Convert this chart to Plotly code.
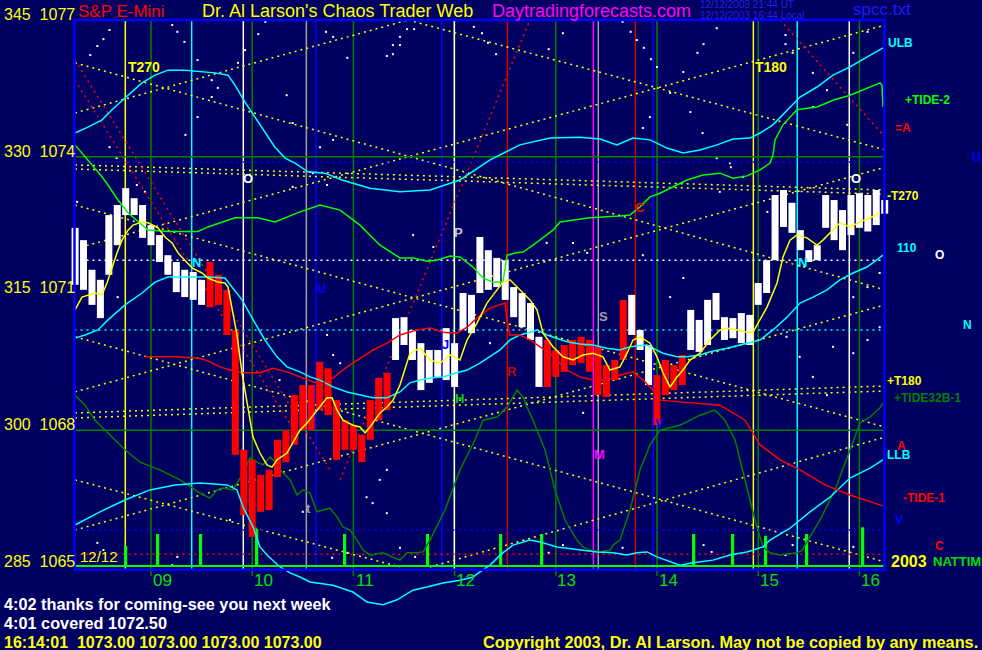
import plotly.graph_objects as go

# ---------------- data ----------------
BG = "#000060"

# 5-minute price bars starting 8:15
bar_start = 8.25
bar_step = 5 / 60
bar_high = [1072.44, 1072.17, 1071.52, 1071.30, 1072.72, 1072.94, 1073.31, 1073.09, 1072.94,
            1072.50, 1072.28, 1071.84, 1071.69, 1071.52, 1071.47, 1071.30, 1071.69, 1071.41, 1071.08, 1070.20, 1067.57,
            1067.35, 1067.02, 1067.13, 1067.79, 1068.00, 1068.77, 1068.99, 1068.99, 1069.50, 1069.36, 1068.66, 1068.22,
            1068.11, 1067.90, 1068.66, 1069.15, 1069.26, 1070.46, 1070.48, 1070.20, 1069.91, 1069.76, 1069.76, 1070.24,
            1069.91, 1071.01, 1070.97, 1072.24, 1071.95, 1071.78, 1071.73, 1071.14, 1071.01, 1070.79, 1070.05, 1069.98,
            1069.76, 1069.87, 1069.98, 1070.05, 1069.98, 1069.83, 1069.43, 1069.54, 1070.86, 1070.97, 1070.20, 1069.87,
            1069.21, 1069.54, 1069.43, 1069.65, 1070.64, 1070.42, 1070.86, 1071.01, 1070.48, 1070.46, 1070.57, 1070.53,
            1071.23, 1071.73, 1073.16, 1073.27, 1072.99, 1072.39, 1071.95, 1072.06, 1073.16, 1073.05, 1072.83, 1073.16,
            1073.20, 1073.16, 1073.27, 1073.05]
bar_low = [1071.19, 1071.08, 1070.75, 1070.46, 1071.41, 1072.06, 1072.72, 1072.72, 1072.22,
           1072.06, 1071.69, 1071.41, 1071.03, 1070.92, 1070.86, 1070.75, 1070.70, 1070.75, 1070.09, 1067.46, 1066.14,
           1065.66, 1066.21, 1066.25, 1066.97, 1067.30, 1067.68, 1068.00, 1068.00, 1068.44, 1068.33, 1067.35, 1067.57,
           1067.57, 1067.30, 1067.79, 1068.22, 1068.44, 1069.54, 1069.87, 1069.54, 1068.88, 1069.04, 1069.17, 1069.10,
           1068.95, 1070.20, 1070.13, 1071.01, 1071.08, 1071.14, 1070.86, 1070.48, 1070.26, 1069.98, 1068.95, 1068.95,
           1069.17, 1069.28, 1069.43, 1069.47, 1069.28, 1068.77, 1068.73, 1069.10, 1069.54, 1070.09, 1069.76, 1068.99,
           1068.11, 1068.77, 1068.88, 1068.99, 1069.76, 1069.72, 1069.87, 1070.42, 1069.98, 1070.02, 1069.91, 1069.87,
           1070.75, 1071.01, 1071.73, 1072.46, 1072.33, 1071.95, 1071.69, 1071.73, 1072.44, 1072.17, 1071.95, 1072.28,
           1072.44, 1072.36, 1072.50, 1072.75]
bar_color = "W" * 16 + "R" * 22 + "W" * 18 + "R" * 10 + "W" * 3 + "R" * 4 + "W" * 24

ma_t = [8.249, 8.318, 8.447, 8.516, 8.565, 8.615, 8.664, 8.713, 8.773, 8.822, 8.911, 8.970, 9.069, 9.138, 9.208,
        9.267, 9.336, 9.405, 9.504, 9.563, 9.662, 9.731, 9.761, 9.810, 9.850, 9.899, 9.978, 10.008, 10.077, 10.146,
        10.196, 10.245, 10.344, 10.403, 10.472, 10.542, 10.621, 10.670, 10.739, 10.789, 10.838, 10.897, 10.996,
        11.065, 11.115, 11.164, 11.263, 11.332, 11.391, 11.460, 11.559, 11.658, 11.757, 11.856, 11.955, 12.053,
        12.123, 12.221, 12.320, 12.419, 12.478, 12.547, 12.646, 12.745, 12.814, 12.874, 12.972, 13.071, 13.170,
        13.269, 13.368, 13.466, 13.536, 13.634, 13.704, 13.763, 13.832, 13.931, 14.000, 14.059, 14.129, 14.198,
        14.257, 14.326, 14.425, 14.524, 14.623, 14.692, 14.791, 14.889, 14.949, 15.018, 15.087, 15.186, 15.245,
        15.314, 15.383, 15.482, 15.581, 15.640, 15.709, 15.808, 15.907, 16.006, 16.105, 16.204]
ma_v = [1070.64, 1070.92, 1071.01, 1070.97, 1071.23, 1071.58, 1071.89, 1072.17, 1072.39, 1072.50, 1072.57, 1072.55,
        1072.44, 1072.24, 1072.11, 1071.89, 1071.73, 1071.56, 1071.45, 1071.34, 1071.25, 1071.23, 1071.14, 1070.53,
        1070.09, 1069.26, 1068.29, 1067.85, 1067.50, 1067.24, 1067.19, 1067.35, 1067.50, 1067.72, 1068.00, 1068.16,
        1068.38, 1068.51, 1068.71, 1068.71, 1068.44, 1068.22, 1068.11, 1068.07, 1067.94, 1068.07, 1068.38, 1068.51,
        1068.66, 1068.99, 1069.69, 1069.80, 1069.54, 1069.47, 1069.65, 1069.54, 1069.98, 1070.35, 1070.79, 1071.08,
        1071.25, 1071.30, 1071.08, 1070.86, 1070.64, 1070.13, 1069.83, 1069.61, 1069.54, 1069.65, 1069.69, 1069.61,
        1069.32, 1069.39, 1069.69, 1069.98, 1070.05, 1069.91, 1069.61, 1069.26, 1068.95, 1069.17, 1069.32, 1069.54,
        1069.69, 1069.98, 1070.20, 1070.24, 1070.20, 1070.15, 1070.15, 1070.42, 1070.70, 1071.23, 1071.80, 1072.17,
        1072.28, 1072.22, 1072.06, 1072.17, 1072.33, 1072.55, 1072.46, 1072.57, 1072.66, 1072.77]

ulb_t = [8.249, 8.377, 8.516, 8.615, 8.743, 8.911, 9.040, 9.168, 9.336, 9.504, 9.632, 9.761, 9.830, 9.929, 10.028,
         10.126, 10.225, 10.324, 10.423, 10.551, 10.719, 10.887, 11.164, 11.460, 11.757, 12.053, 12.350, 12.646,
         12.943, 13.239, 13.437, 13.605, 13.763, 13.931, 14.099, 14.257, 14.425, 14.593, 14.751, 14.919, 15.018,
         15.146, 15.285, 15.413, 15.581, 15.739, 15.907, 16.075, 16.233]
ulb_v = [1074.52, 1074.65, 1074.81, 1075.03, 1075.29, 1075.62, 1075.79, 1075.90, 1075.90, 1075.86, 1075.84, 1075.79,
         1075.57, 1075.20, 1074.87, 1074.52, 1074.21, 1073.97, 1073.86, 1073.67, 1073.64, 1073.49, 1073.31, 1073.23,
         1073.27, 1073.49, 1073.93, 1074.26, 1074.41, 1074.43, 1074.39, 1074.26, 1074.41, 1074.37, 1074.19, 1074.08,
         1074.15, 1074.26, 1074.39, 1074.41, 1074.52, 1074.70, 1075.03, 1075.31, 1075.53, 1075.79, 1075.97, 1076.19,
         1076.39]

mid_t = [8.249, 8.348, 8.476, 8.575, 8.743, 8.911, 9.040, 9.168, 9.336, 9.563, 9.731, 9.800, 9.899, 10.028, 10.126,
         10.245, 10.344, 10.472, 10.571, 10.670, 10.798, 10.937, 11.065, 11.194, 11.332, 11.460, 11.559, 11.658,
         11.787, 11.885, 12.024, 12.123, 12.251, 12.350, 12.449, 12.547, 12.646, 12.745, 12.814, 12.913, 13.012,
         13.111, 13.239, 13.368, 13.506, 13.634, 13.733, 13.901, 13.960, 14.059, 14.198, 14.296, 14.425, 14.524,
         14.692, 14.889, 15.018, 15.146, 15.285, 15.413, 15.542, 15.680, 15.808, 15.937, 16.075, 16.233]
mid_v = [1070.02, 1070.09, 1070.20, 1070.42, 1070.75, 1071.01, 1071.25, 1071.36, 1071.36, 1071.36, 1071.34, 1071.14,
         1070.86, 1070.35, 1069.98, 1069.61, 1069.39, 1069.28, 1069.17, 1069.10, 1068.95, 1068.84, 1068.77, 1068.71,
         1068.71, 1068.84, 1069.04, 1069.10, 1069.15, 1069.17, 1069.26, 1069.32, 1069.47, 1069.61, 1069.76, 1069.98,
         1070.09, 1070.15, 1070.20, 1070.09, 1070.02, 1069.94, 1069.89, 1069.87, 1069.80, 1069.76, 1069.83, 1069.87,
         1069.80, 1069.69, 1069.61, 1069.61, 1069.65, 1069.72, 1069.80, 1069.91, 1069.98, 1070.20, 1070.48, 1070.79,
         1070.92, 1071.08, 1071.30, 1071.45, 1071.58, 1071.84]

llb_t = [8.249, 8.496, 8.743, 8.990, 9.237, 9.484, 9.751, 9.850, 9.909, 10.008, 10.077, 10.146, 10.275, 10.374,
         10.472, 10.571, 10.798, 10.996, 11.134, 11.292, 11.431, 11.589, 11.727, 11.885, 12.053, 12.182, 12.251,
         12.350, 12.449, 12.577, 12.745, 12.844, 13.012, 13.239, 13.407, 13.566, 13.704, 13.802, 13.901, 14.000,
         14.129, 14.227, 14.356, 14.553, 14.721, 14.889, 15.047, 15.117, 15.314, 15.512, 15.709, 15.907, 16.006,
         16.105, 16.233]
llb_v = [1065.92, 1066.21, 1066.47, 1066.69, 1066.80, 1066.84, 1066.80, 1066.69, 1066.32, 1065.88, 1065.44, 1065.26,
         1065.00, 1064.87, 1064.78, 1064.67, 1064.60, 1064.45, 1064.23, 1064.17, 1064.28, 1064.49, 1064.56, 1064.65,
         1064.71, 1064.78, 1064.89, 1065.04, 1065.26, 1065.48, 1065.59, 1065.55, 1065.44, 1065.37, 1065.33, 1065.31,
         1065.26, 1065.31, 1065.33, 1065.22, 1065.11, 1065.04, 1065.09, 1065.15, 1065.26, 1065.33, 1065.44, 1065.59,
         1065.85, 1066.21, 1066.53, 1066.95, 1067.06, 1067.17, 1067.35]

tide2_t = [8.249, 8.377, 8.516, 8.575, 8.674, 8.773, 8.872, 8.970, 9.168, 9.464, 9.563, 9.702, 9.830, 10.057,
           10.225, 10.472, 10.670, 10.868, 11.065, 11.263, 11.460, 11.589, 11.727, 11.826, 11.955, 12.053, 12.182,
           12.281, 12.379, 12.478, 12.518, 12.597, 12.676, 12.775, 12.874, 12.972, 13.042, 13.338, 13.634, 13.733,
           13.832, 13.931, 14.030, 14.129, 14.296, 14.455, 14.623, 14.751, 14.889, 15.018, 15.117, 15.146, 15.166,
           15.245, 15.383, 15.581, 15.739, 15.907, 16.075, 16.204, 16.223, 16.233]
tide2_v = [1074.26, 1073.93, 1073.56, 1073.38, 1073.05, 1072.77, 1072.57, 1072.39, 1072.36, 1072.36, 1072.46, 1072.57,
           1072.66, 1072.66, 1072.57, 1072.79, 1072.94, 1072.83, 1072.50, 1072.06, 1071.78, 1071.78, 1071.71, 1071.73,
           1071.82, 1071.80, 1071.58, 1071.34, 1071.25, 1071.25, 1071.84, 1071.89, 1071.91, 1072.06, 1072.22, 1072.39,
           1072.57, 1072.66, 1072.70, 1072.72, 1072.90, 1073.12, 1073.20, 1073.31, 1073.49, 1073.60, 1073.64, 1073.53,
           1073.58, 1073.71, 1073.86, 1074.04, 1074.37, 1074.70, 1075.03, 1075.09, 1075.24, 1075.35, 1075.51, 1075.62,
           1075.57, 1075.09]

tide1_t = [8.941, 9.237, 9.484, 9.583, 9.682, 9.781, 9.909, 10.077, 10.206, 10.344, 10.472, 10.601, 10.700, 10.798,
           10.937, 11.065, 11.194, 11.332, 11.460, 11.628, 11.757, 11.885, 12.024, 12.123, 12.221, 12.350, 12.449,
           12.498, 12.518, 12.547, 12.646, 12.745, 12.844, 12.943, 13.111, 13.239, 13.368, 13.506, 13.634, 13.763,
           13.862, 13.960, 14.030, 14.326, 14.623, 14.870, 15.018, 15.215, 15.413, 15.660, 15.907, 16.233]
tide1_v = [1069.61, 1069.61, 1069.58, 1069.50, 1069.39, 1069.32, 1069.26, 1069.26, 1069.36, 1069.28, 1069.17, 1069.06,
           1069.04, 1069.15, 1069.39, 1069.58, 1069.76, 1069.91, 1070.09, 1070.20, 1070.24, 1070.15, 1070.13, 1070.26,
           1070.46, 1070.68, 1070.75, 1070.79, 1070.42, 1070.09, 1070.09, 1069.98, 1069.83, 1069.69, 1069.32, 1069.17,
           1069.10, 1069.10, 1069.21, 1069.28, 1069.10, 1068.88, 1068.66, 1068.60, 1068.55, 1068.22, 1067.68, 1067.35,
           1067.13, 1066.80, 1066.58, 1066.34]

osc_t = [8.249, 8.348, 8.447, 8.595, 8.743, 8.891, 9.089, 9.287, 9.484, 9.583, 9.652, 9.711, 9.810, 9.909, 9.978,
         10.047, 10.107, 10.176, 10.206, 10.275, 10.374, 10.443, 10.502, 10.571, 10.640, 10.700, 10.769, 10.838,
         10.897, 10.966, 11.036, 11.095, 11.164, 11.292, 11.391, 11.460, 11.530, 11.628, 11.688, 11.757, 11.905,
         12.053, 12.202, 12.281, 12.419, 12.518, 12.617, 12.676, 12.715, 12.775, 12.893, 12.992, 13.091, 13.209,
         13.269, 13.338, 13.437, 13.536, 13.566, 13.634, 13.733, 13.832, 13.931, 14.030, 14.227, 14.425, 14.573,
         14.672, 14.771, 14.870, 14.968, 15.047, 15.117, 15.215, 15.383, 15.433, 15.611, 15.759, 15.907, 15.957,
         16.006, 16.105, 16.204, 16.233]
osc_v = [1068.77, 1068.55, 1068.22, 1067.90, 1067.57, 1067.30, 1067.13, 1066.91, 1066.62, 1066.51, 1066.69, 1066.73,
         1066.69, 1067.06, 1067.39, 1067.30, 1067.24, 1067.41, 1067.35, 1067.13, 1066.91, 1066.58, 1066.69, 1066.62,
         1066.21, 1066.25, 1066.29, 1066.10, 1065.88, 1065.81, 1065.59, 1065.37, 1065.26, 1065.31, 1065.22, 1065.15,
         1065.31, 1065.31, 1065.33, 1065.59, 1066.25, 1067.13, 1067.79, 1068.22, 1068.29, 1068.51, 1068.88, 1068.73,
         1068.51, 1068.22, 1067.57, 1066.69, 1066.03, 1065.59, 1065.44, 1065.37, 1065.33, 1065.37, 1065.48, 1065.59,
         1066.25, 1067.13, 1067.68, 1068.00, 1068.11, 1068.33, 1068.44, 1068.22, 1067.79, 1066.91, 1066.03, 1065.44,
         1065.31, 1065.26, 1065.31, 1065.37, 1066.03, 1066.69, 1067.57, 1067.85, 1068.16, 1068.29, 1068.49, 1068.60]

nat_base = 1065.02
nat_t = [8.743, 9.059, 9.484, 10.038, 10.907, 11.727, 12.449, 12.854, 14.356, 14.741, 15.067, 15.472, 16.026]
nat_top = [1065.44, 1065.70, 1065.70, 1065.81, 1065.70, 1065.70, 1065.70, 1065.70, 1065.70, 1065.70, 1065.66,
           1065.70, 1065.85]

# background star dots
star_t = [8.59, 8.53, 8.47, 8.40, 9.21, 9.26, 9.33, 9.93, 10.13, 10.06, 10.73, 10.80, 10.94, 11.53, 11.60, 11.46,
          11.39, 11.46, 11.39, 11.33, 12.19, 12.27, 12.33, 12.41, 13.07, 12.93, 13.66, 13.74, 13.87, 13.94, 14.59,
          14.46, 14.40, 15.27, 15.27, 15.34, 16.08, 15.94, 9.46, 9.86, 9.60, 9.66, 9.60, 9.46, 9.34, 8.86, 8.66,
          8.59, 10.34, 10.40, 10.67, 10.80, 10.60, 10.40, 10.74, 13.80, 14.00, 14.13, 13.93, 13.86, 14.26, 14.33,
          14.45, 14.59, 14.73, 15.54, 15.68, 15.54, 15.88, 10.74, 10.80, 10.87, 10.27, 11.13, 11.26, 11.33, 11.19,
          11.33, 9.78, 10.50, 11.59, 11.79, 12.91, 13.17, 13.31, 13.27, 12.35, 14.72, 14.85, 14.62, 15.09, 13.86,
          14.26, 14.13, 15.28, 15.41, 15.54, 15.68, 16.20, 16.08, 15.94, 16.20, 16.08, 15.94, 15.74, 8.94, 8.27,
          8.67, 9.21, 9.26, 8.47, 8.53, 10.79, 10.94, 11.61, 11.46, 13.07, 12.93, 13.66, 14.46, 14.54, 15.27,
          15.34, 15.94]
star_v = [1076.78, 1076.58, 1076.43, 1076.23, 1076.89, 1076.74, 1076.52, 1076.34, 1076.96, 1076.69, 1076.74,
          1076.63, 1076.17, 1076.80, 1076.80, 1076.63, 1076.45, 1076.45, 1076.25, 1076.21, 1076.85, 1076.71,
          1076.50, 1076.25, 1076.71, 1076.36, 1076.96, 1076.74, 1076.39, 1076.14, 1076.82, 1076.47, 1076.28,
          1076.67, 1076.47, 1076.28, 1076.74, 1076.28, 1076.12, 1076.06, 1075.68, 1075.51, 1075.31, 1074.87,
          1074.48, 1073.38, 1073.97, 1074.21, 1075.35, 1074.74, 1074.21, 1074.37, 1073.64, 1073.34, 1073.38,
          1076.56, 1075.97, 1075.40, 1074.87, 1074.63, 1075.86, 1074.98, 1074.52, 1073.97, 1073.77, 1075.84,
          1075.46, 1075.09, 1074.70, 1070.09, 1069.65, 1069.47, 1069.10, 1066.53, 1066.91, 1067.13, 1066.40,
          1066.18, 1066.03, 1066.21, 1072.28, 1072.02, 1072.11, 1072.11, 1071.89, 1068.38, 1069.91, 1073.86,
          1073.56, 1073.23, 1072.79, 1071.84, 1071.34, 1070.92, 1070.05, 1069.61, 1069.17, 1068.77, 1071.45,
          1071.14, 1070.92, 1070.26, 1069.98, 1069.69, 1069.83, 1073.23, 1073.01, 1070.92, 1065.04, 1065.22,
          1065.53, 1065.37, 1065.20, 1065.31, 1065.22, 1065.42, 1065.48, 1065.31, 1065.42, 1065.48, 1065.33,
          1065.26, 1065.48, 1065.44]

# vertical event lines
vline_t = [8.746, 9.402, 9.912, 10.535, 10.630, 11.873, 11.997, 12.521, 13.371, 13.420, 13.786, 13.963, 14.952,
           15.386, 15.900]
vline_c = ["#ffff00", "#00ffff", "#ffffff", "#a0a0a0", "#0000ff", "#0000ff", "#ffffff", "#d00000", "#ff00ff",
           "#a0a0a0", "#d00000", "#0000ff", "#ffff00", "#00ffff", "#ffffff"]
hours = [9, 10, 11, 12, 13, 14, 15, 16]
hour_labels = ["09", "10", "11", "12", "13", "14", "15", "16"]

# horizontal levels
hlines = [(1074.0, "#008000", "solid"), (1068.0, "#008000", "solid"),
          (1073.885, "#0000ff", "dot"), (1065.81, "#0000ff", "dot"),
          (1071.73, "#ffffff", "dot"), (1070.20, "#00ffff", "dot"),
          (1065.28, "#ff0000", "dot")]

# yellow dotted fan lines (start time, start price, end time, end price)
fan_lines = [(8.249, 1076.06, 16.253, 1071.08), (8.249, 1074.96, 11.540, 1077.00), (11.540, 1077.00, 16.253, 1074.15),
             (8.249, 1071.98, 16.253, 1076.89), (8.249, 1072.94, 16.253, 1068.07), (8.249, 1065.81, 16.253, 1070.75),
             (11.757, 1065.00, 16.253, 1067.85), (8.249, 1068.84, 16.253, 1073.77), (8.249, 1070.05, 16.253, 1065.11),
             (8.249, 1066.91, 11.460, 1065.00),
             (8.249, 1073.82, 16.253, 1073.27), (8.249, 1073.73, 16.253, 1073.18),
             (8.249, 1068.38, 16.253, 1068.97), (8.249, 1068.27, 16.253, 1068.86)]
red_fan = [(8.249, 1076.12, 10.769, 1067.13), (8.249, 1075.68, 10.472, 1067.79),
           (10.868, 1066.91, 12.745, 1077.00), (15.215, 1077.00, 16.253, 1074.43)]

y_ticks = [1077, 1074, 1071, 1068, 1065]
y_ticktext = ["345  1077", "330  1074", "315  1071", "300  1068", "285  1065"]

# ---------------- figure ----------------
XL, XR = 8.244, 16.248   # frame edges
YB, YT = 1064.94, 1077.0

fig = go.Figure()


def seg_trace(x0, y0, x1, y1, color, dash="2px,4px", width=1.5):
    fig.add_trace(go.Scatter(x=[x0, x1], y=[y0, y1], mode="lines",
                             line=dict(color=color, width=width, dash=dash),
                             hoverinfo="skip", showlegend=False))


fig.add_trace(go.Scatter(x=star_t, y=star_v, mode="markers",
                         marker=dict(color="#ffffff", size=2, symbol="square", line=dict(width=0)),
                         hoverinfo="skip", showlegend=False))
for (a, b, c, d) in fan_lines:
    seg_trace(a, b, c, d, "#ffff00")
for (a, b, c, d) in red_fan:
    seg_trace(a, b, c, d, "#ff0000")
for (lvl, col, ds) in hlines:
    seg_trace(XL, lvl, XR, lvl, col, dash=("solid" if ds == "solid" else "2px,4px"), width=1.5)

# NATTIME spikes
nx, ny = [XL], [nat_base]
for t, top in zip(nat_t, nat_top):
    nx += [t, t, t + 0.012, t + 0.012]
    ny += [nat_base, top, top, nat_base]
nx.append(XR)
ny.append(nat_base)
fig.add_trace(go.Scatter(x=nx, y=ny, mode="lines", line=dict(color="#00ff00", width=2),
                         hoverinfo="skip", showlegend=False))

# oscillator
fig.add_trace(go.Scatter(x=osc_t, y=osc_v, mode="lines", line=dict(color="#008000", width=1.5),
                         hoverinfo="skip", showlegend=False))

# price bars
for col_key, col in (("W", "#ffffff"), ("R", "#ff0000")):
    bx, by = [], []
    for k, (h, l, c) in enumerate(zip(bar_high, bar_low, bar_color)):
        if c != col_key:
            continue
        t = bar_start + k * bar_step
        bx += [t, t, None]
        by += [l, h, None]
    fig.add_trace(go.Scatter(x=bx, y=by, mode="lines", line=dict(color=col, width=7),
                             hoverinfo="skip", showlegend=False))

# bands and tides
for tt, vv, col in ((ulb_t, ulb_v, "#00ffff"), (mid_t, mid_v, "#00ffff"), (llb_t, llb_v, "#00ffff"),
                    (tide2_t, tide2_v, "#00ff00"), (tide1_t, tide1_v, "#ff0000"), (ma_t, ma_v, "#ffff00")):
    fig.add_trace(go.Scatter(x=tt, y=vv, mode="lines", line=dict(color=col, width=1.5),
                             hoverinfo="skip", showlegend=False))

shapes = []
for h in hours:
    shapes.append(dict(type="line", x0=h, x1=h, y0=1064.80, y1=YT, xref="x", yref="y",
                       line=dict(color="#008000", width=1.5), layer="below"))
for t, c in zip(vline_t, vline_c):
    shapes.append(dict(type="line", x0=t, x1=t, y0=YB, y1=YT, xref="x", yref="y",
                       line=dict(color=c, width=1.5), layer="below"))
shapes.append(dict(type="rect", x0=XL, x1=XR, y0=YB, y1=YT, xref="x", yref="y",
                   line=dict(color="#0000ff", width=2.5), layer="above"))

FONT = "Liberation Sans, Arial, sans-serif"
ann = []


def txt(s, xp, yp, color, size, bold=False, anchor="center"):
    ann.append(dict(text=("<b>%s</b>" % s) if bold else s, x=xp / 982, y=1 - yp / 650,
                    xref="paper", yref="paper", xanchor=anchor, yanchor="middle", showarrow=False,
                    font=dict(family=FONT, size=size, color=color)))


# y labels
for v, s in zip(y_ticks, y_ticktext):
    ann.append(dict(text=s, x=2 / 982, y=v, xref="paper", yref="y", xanchor="left", yanchor="bottom",
                    showarrow=False, yshift=-5, font=dict(family=FONT, size=16, color="#ffff00")))
# x labels
for h, s in zip(hours, hour_labels):
    ann.append(dict(text=s, x=h + 0.11, y=1 - 580 / 650, xref="x", yref="paper", xanchor="center",
                    yanchor="middle", showarrow=False, font=dict(family=FONT, size=17, color="#00e000")))

# header
txt("S&P E-Mini", 76, 11, "#ff0000", 17, anchor="left")
txt("Dr. Al Larson's Chaos Trader Web", 200, 11, "#ffff00", 18, anchor="left")
txt("Daytradingforecasts.com", 490, 11, "#ff00ff", 18, anchor="left")
txt("12/12/2003 21:44 UT", 698, 5, "#2020e8", 10, anchor="left")
txt("12/12/2003 16:44 Local", 698, 15, "#2020e8", 10, anchor="left")
txt("spcc.txt", 851, 10, "#1a1aff", 17, anchor="left")

# footer
txt("4:02 thanks for coming-see you next week", 2, 604, "#ffffff", 16.3, bold=True, anchor="left")
txt("4:01 covered 1072.50", 2, 623, "#ffffff", 16.3, bold=True, anchor="left")
txt("16:14:01  1073.00 1073.00 1073.00 1073.00", 2, 642, "#ffff00", 16, bold=True, anchor="left")
txt("Copyright 2003, Dr. Al Larson. May not be copied by any means.", 481, 642, "#ffff00", 16.3, bold=True,
    anchor="left")

# in-chart letters
for s, xp, yp, c in [("O", 248, 178, "#ffffff"), ("N", 196, 262, "#00ffff"), ("U", 321, 288, "#0000ff"),
                     ("t", 308, 508, "#a0a0a0"), ("P", 458, 233, "#c8c8c8"), ("J", 445, 344, "#0000ff"),
                     ("H", 459, 398, "#00d000"), ("R", 512, 371, "#c00000"), ("S", 603, 317, "#a0a0a0"),
                     ("C", 640, 207, "#ff0000"), ("M", 599, 455, "#ff00ff"), ("V", 659, 424, "#0000ff"),
                     ("O", 856, 178, "#ffffff"), ("N", 802, 262, "#00ffff")]:
    txt(s, xp, yp, c, 13, bold=True)

txt("T270", 126, 67, "#ffff00", 14, bold=True, anchor="left")
txt("T180", 753, 67, "#ffff00", 14, bold=True, anchor="left")
txt("12/12", 78, 556, "#ffff00", 15, anchor="left")

# right-side labels
for s, xp, yp, c, sz in [("ULB", 886, 43, "#00ffff", 12), ("+TIDE-2", 903, 100, "#00ff00", 12),
                         ("=A", 893, 128, "#ff0000", 12), ("U", 970, 157, "#0000ff", 12),
                         ("-T270", 885, 196, "#ffff00", 12), ("110", 895, 248, "#00ffff", 12),
                         ("O", 933, 255, "#ffffff", 12), ("N", 961, 325, "#00ffff", 12),
                         ("+T180", 885, 381, "#ffff00", 12), ("+TIDE32B-1", 892, 398, "#008000", 12),
                         ("LLB", 885, 455, "#00ffff", 12), ("A", 895, 446, "#ff0000", 12),
                         ("-TIDE-1", 901, 498, "#ff0000", 12), ("V", 893, 520, "#0000ff", 12),
                         ("C", 933, 546, "#ff0000", 12), ("2003", 889, 561, "#ffff00", 16),
                         ("NATTIME", 931, 561, "#00e000", 13)]:
    txt(s, xp, yp, c, sz, bold=True, anchor="left")

fig.update_layout(
    width=982, height=650, margin=dict(l=0, r=0, t=0, b=0),
    paper_bgcolor=BG, plot_bgcolor=BG, showlegend=False,
    xaxis=dict(range=[7.5079, 17.2115], visible=False, fixedrange=True),
    yaxis=dict(range=[1063.178, 1077.4388], visible=False, fixedrange=True),
    shapes=shapes, annotations=ann,
)

fig.write_html("out.html", config={"displayModeBar": False, "staticPlot": True},
               post_script="document.body.style.margin='0px';document.body.style.padding='0px';"
                           "document.body.style.background='#000060';")
